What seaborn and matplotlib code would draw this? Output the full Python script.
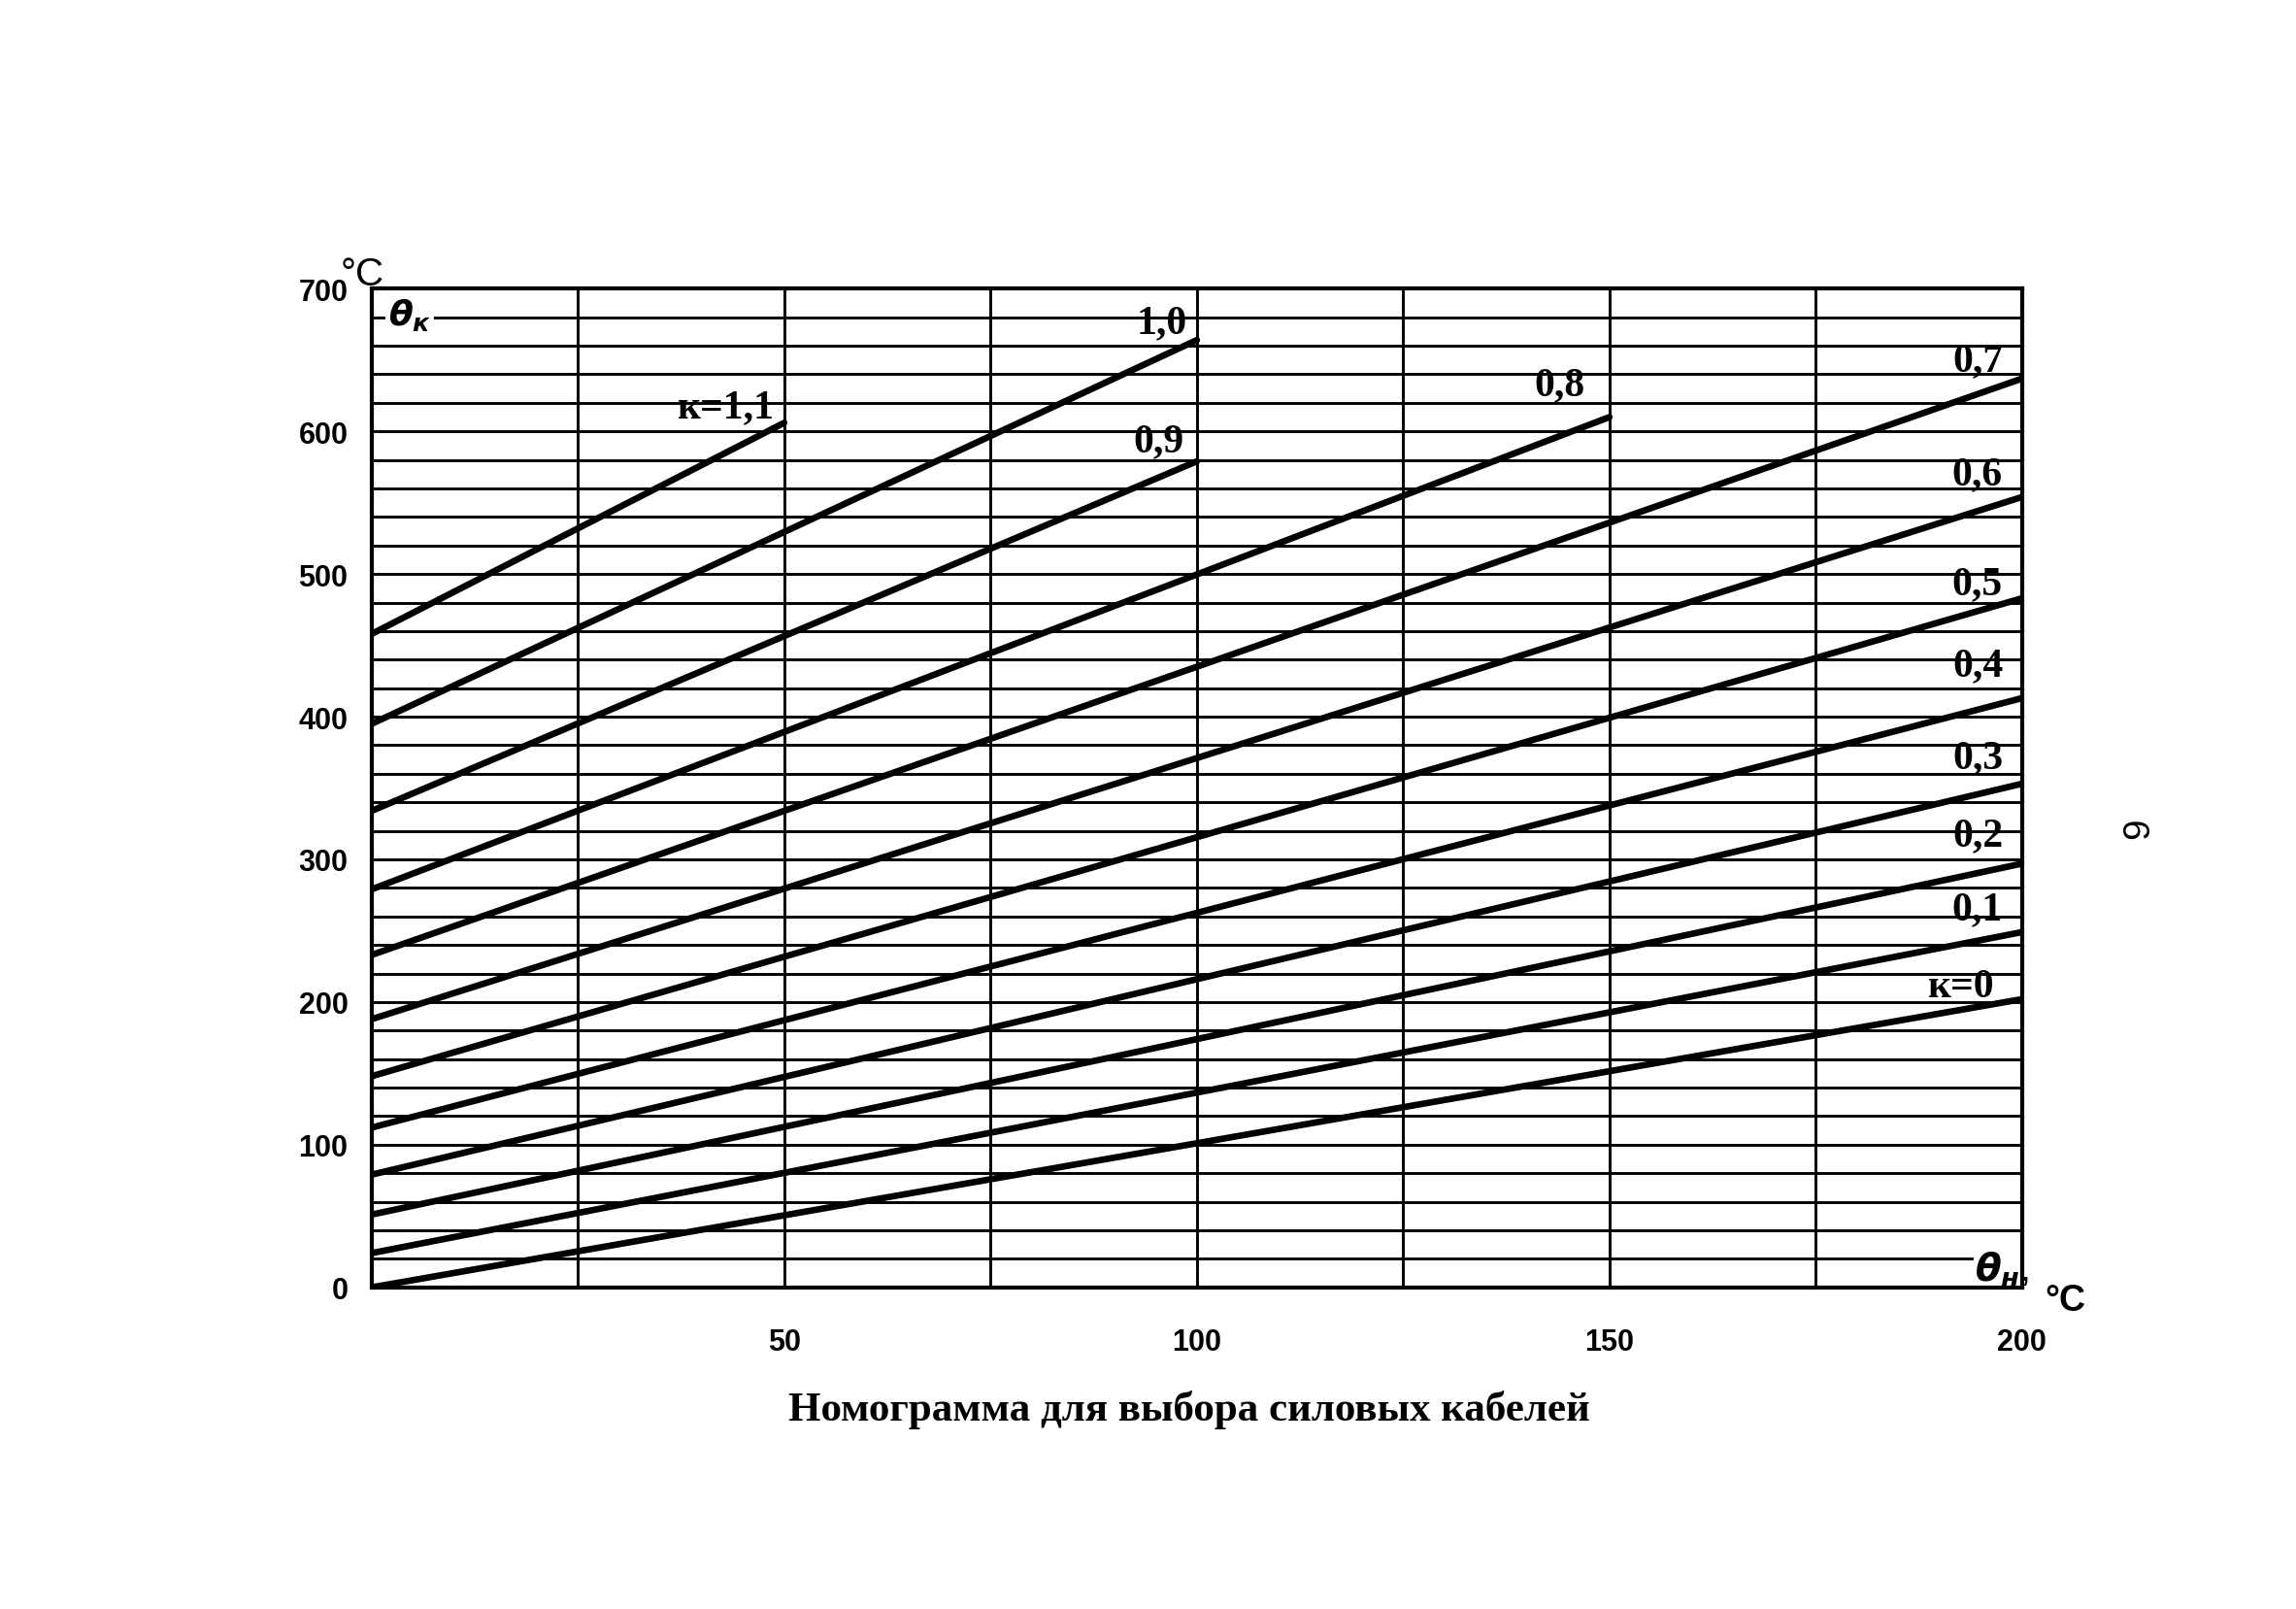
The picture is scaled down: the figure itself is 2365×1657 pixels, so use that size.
import numpy as np
import pandas as pd
import matplotlib
matplotlib.use("Agg")
import matplotlib.pyplot as plt
import seaborn as sns
from matplotlib.ticker import FixedLocator, MultipleLocator
from matplotlib import font_manager

# ---------------- data ----------------
k_values = [0.0, 0.1, 0.2, 0.3, 0.4, 0.5, 0.6, 0.7, 0.8, 0.9, 1.0, 1.1]
k_labels = ["к=0", "0,1", "0,2", "0,3", "0,4", "0,5", "0,6", "0,7", "0,8", "0,9", "1,0", "к=1,1"]
theta_n_start = [0, 0, 0, 0, 0, 0, 0, 0, 0, 0, 0, 0]
theta_n_end = [200, 200, 200, 200, 200, 200, 200, 200, 150, 100, 100, 50]
theta_k_start = [0, 24, 51, 79, 112, 148, 188, 233, 279, 334, 395, 458]
theta_k_end = [202, 249, 297, 353, 413, 483, 554, 637, 610, 579, 664, 606]
label_x = [192.5, 194.5, 194.7, 194.7, 194.7, 194.5, 194.5, 194.7, 144.0, 95.4, 95.8, 42.8]
label_y = [211, 265, 317, 371, 436, 493, 570, 650, 633, 593, 676, 617]

x_ticks = [50, 100, 150, 200]
x_minor = [25, 75, 125, 175]
y_ticks = [0, 100, 200, 300, 400, 500, 600, 700]

title = "Номограмма для выбора силовых кабелей"

# ---------------- style ----------------
sns.set_style("white")
plt.rcParams["font.family"] = ["Liberation Sans", "DejaVu Sans"]
plt.rcParams["mathtext.fontset"] = "custom"
plt.rcParams["mathtext.it"] = "DejaVu Sans:italic:bold"
plt.rcParams["mathtext.rm"] = "DejaVu Sans:bold"

names = {f.name for f in font_manager.fontManager.ttflist}
tick_family = "Liberation Sans Narrow" if "Liberation Sans Narrow" in names else "Liberation Sans"
serif = ["Liberation Serif", "DejaVu Serif"]

rows = []
for k, xs, xe, ys, ye in zip(k_values, theta_n_start, theta_n_end, theta_k_start, theta_k_end):
    rows.append({"k": str(k), "theta_n": xs, "theta_k": ys})
    rows.append({"k": str(k), "theta_n": xe, "theta_k": ye})
df = pd.DataFrame(rows)

fig = plt.figure(figsize=(23.65, 16.58), dpi=100)
ax = fig.add_axes([0.1619, 0.1998, 0.7188, 0.6203])

sns.lineplot(data=df, x="theta_n", y="theta_k", hue="k",
             palette={str(k): "black" for k in k_values},
             estimator=None, sort=False, legend=False, linewidth=4.8, ax=ax)

ax.set_xlim(0, 200)
ax.set_ylim(0, 700)
ax.set_xlabel("")
ax.set_ylabel("")
ax.xaxis.set_major_locator(FixedLocator(x_ticks))
ax.xaxis.set_minor_locator(FixedLocator(x_minor))
ax.yaxis.set_major_locator(FixedLocator(y_ticks))
ax.yaxis.set_minor_locator(MultipleLocator(20))
ax.grid(True, which="both", color="black", linewidth=2.1)

ax.tick_params(axis="y", which="major", direction="out", length=6.5, width=2,
               pad=11, labelsize=22, labelfontfamily=tick_family, colors="black")
ax.tick_params(axis="y", which="minor", length=0)
ax.tick_params(axis="x", which="both", direction="out", length=4, width=2,
               pad=26, labelsize=22, labelfontfamily=tick_family, colors="black")
for lbl in ax.get_xticklabels() + ax.get_yticklabels():
    lbl.set_fontweight("bold")

for s in ax.spines.values():
    s.set_visible(True)
    s.set_color("black")
    s.set_linewidth(3)

# curve labels
for lab, lx, ly in zip(k_labels, label_x, label_y):
    ax.text(lx, ly, lab, ha="center", va="center", fontsize=30,
            family=serif, weight="bold", color="black", zorder=5)

# axis annotations
ax.text(-0.019, 1.004, "°C", transform=ax.transAxes, ha="left", va="baseline",
        fontsize=29, color="black")
ax.text(2.0, 682, r"$\theta_{к}$", ha="left", va="center", fontsize=26,
        color="black", zorder=2.2,
        bbox=dict(facecolor="white", edgecolor="none", pad=2))
ax.text(194.3, 13, r"$\theta_{н}$,", ha="left", va="center", fontsize=28,
        color="black", zorder=2.2,
        bbox=dict(facecolor="white", edgecolor="none", pad=1))
ax.text(1.0141, -0.0227, "°C", transform=ax.transAxes, ha="left", va="baseline",
        fontsize=27, weight="bold", color="black")

fig.text(1225 / 2365, 1 - 1452 / 1658, title, ha="center", va="center",
         fontsize=31, weight="bold", family=serif, color="black")
fig.text(2203 / 2365, 1 - 853 / 1658, "9", rotation=90, ha="center", va="center",
         fontsize=28, color="black")

fig.savefig("out.png", dpi=100, facecolor="white")
